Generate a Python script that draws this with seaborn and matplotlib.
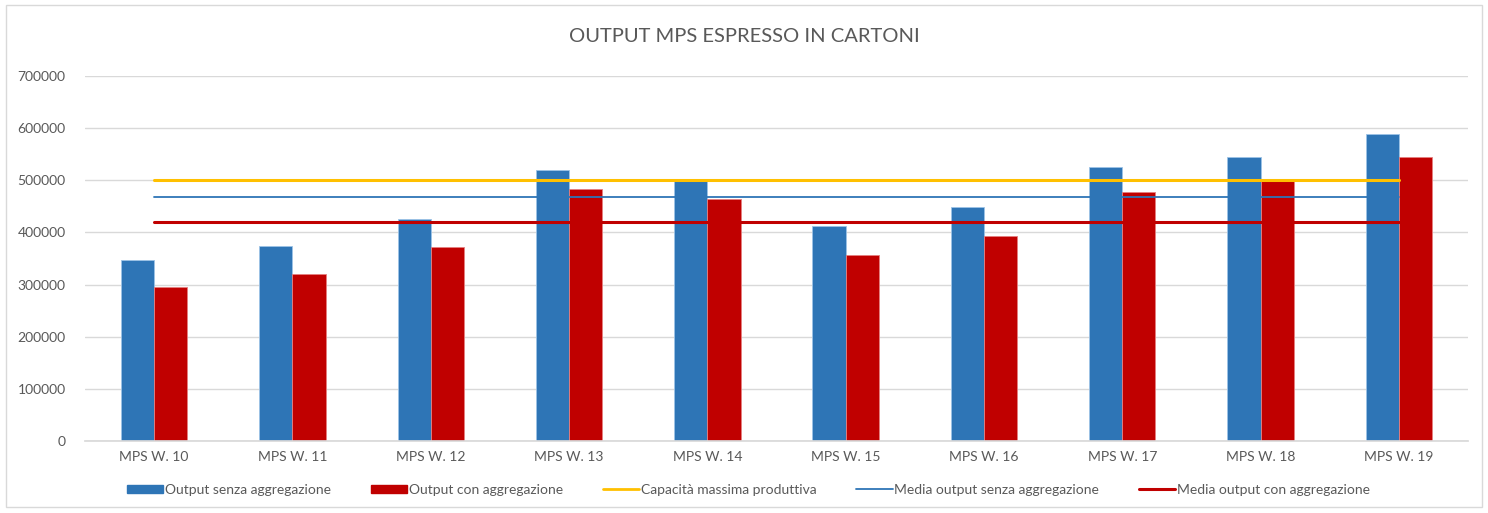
import numpy as np
import pandas as pd
import matplotlib
matplotlib.use("Agg")
import matplotlib.pyplot as plt
import seaborn as sns
from matplotlib.patches import Patch, Rectangle
from matplotlib.lines import Line2D

weeks = ["MPS W. 10", "MPS W. 11", "MPS W. 12", "MPS W. 13", "MPS W. 14",
         "MPS W. 15", "MPS W. 16", "MPS W. 17", "MPS W. 18", "MPS W. 19"]
output_senza = [347000, 374000, 426000, 520000, 499000, 413000, 449000, 525000, 545000, 589000]
output_con = [295000, 320000, 372000, 483000, 464000, 357000, 393000, 477000, 499000, 545000]
capacita_max = 500000

series_names = ["Output senza aggregazione", "Output con aggregazione"]
line_names = ["Capacità massima produttiva", "Media output senza aggregazione",
              "Media output con aggregazione"]
yticks = [0, 100000, 200000, 300000, 400000, 500000, 600000, 700000]

blue = "#2E75B6"
red = "#C00000"
yellow = "#FFC000"
text_col = "#595959"

sns.set_theme(style="white")
plt.rcParams["font.family"] = ["Lato", "DejaVu Sans"]

df = pd.DataFrame({
    "week": weeks * 2,
    "value": output_senza + output_con,
    "serie": [series_names[0]] * len(weeks) + [series_names[1]] * len(weeks),
})

fig = plt.figure(figsize=(14.88, 5.13), dpi=100)
ax = fig.add_axes([0.0571, 0.1404, 0.9295, 0.7115])

sns.barplot(data=df, x="week", y="value", hue="serie", order=weeks,
            hue_order=series_names, palette=[blue, red], width=0.48,
            saturation=1, errorbar=None, ax=ax, legend=False,
            edgecolor="#9dc3e6", linewidth=0.6, zorder=2)
for p in ax.patches[len(weeks):]:
    p.set_edgecolor("#e58080")

x0, x1 = 0, len(weeks) - 1
media_senza = float(np.mean(output_senza))
media_con = float(np.mean(output_con))
ax.plot([x0, x1], [capacita_max, capacita_max], color=yellow, lw=2.2, zorder=3)
ax.plot([x0, x1], [media_senza, media_senza], color=blue, lw=1.3, zorder=3)
ax.plot([x0, x1], [media_con, media_con], color=red, lw=2.2, zorder=3)

ax.set_xlim(-0.5, len(weeks) - 0.5)
ax.set_ylim(0, 700000)
ax.set_yticks(yticks)
ax.set_yticklabels([str(v) for v in yticks])
ax.yaxis.grid(True, color="#d9d9d9", lw=1, zorder=0)
ax.set_axisbelow(True)
for s in ax.spines.values():
    s.set_visible(False)
ax.spines["bottom"].set_visible(True)
ax.spines["bottom"].set_color("#d9d9d9")
ax.tick_params(axis="both", length=0, labelsize=10, labelcolor=text_col)
ax.tick_params(axis="y", pad=14)
ax.tick_params(axis="x", pad=7)
ax.set_xlabel("")
ax.set_ylabel("")

fig.text(0.5, 0.928, "OUTPUT MPS ESPRESSO IN CARTONI", ha="center", va="center",
         fontsize=14.5, color=text_col)

handles = [
    Patch(facecolor=blue, edgecolor=blue),
    Patch(facecolor=red, edgecolor=red),
    Line2D([], [], color=yellow, lw=2),
    Line2D([], [], color=blue, lw=1.3),
    Line2D([], [], color=red, lw=2.2),
]
fig.legend(handles, series_names + line_names, loc="center", ncol=5,
           bbox_to_anchor=(0.503, 0.045), frameon=False, fontsize=10,
           labelcolor=text_col, handlelength=2.6, handleheight=0.5,
           handletextpad=0.1, columnspacing=2.9)

fig.patches.append(Rectangle((0.004, 0.012), 0.992, 0.978, transform=fig.transFigure,
                             fill=False, edgecolor="#d9d9d9", lw=1))

fig.savefig("out.png", dpi=100, facecolor="white")
